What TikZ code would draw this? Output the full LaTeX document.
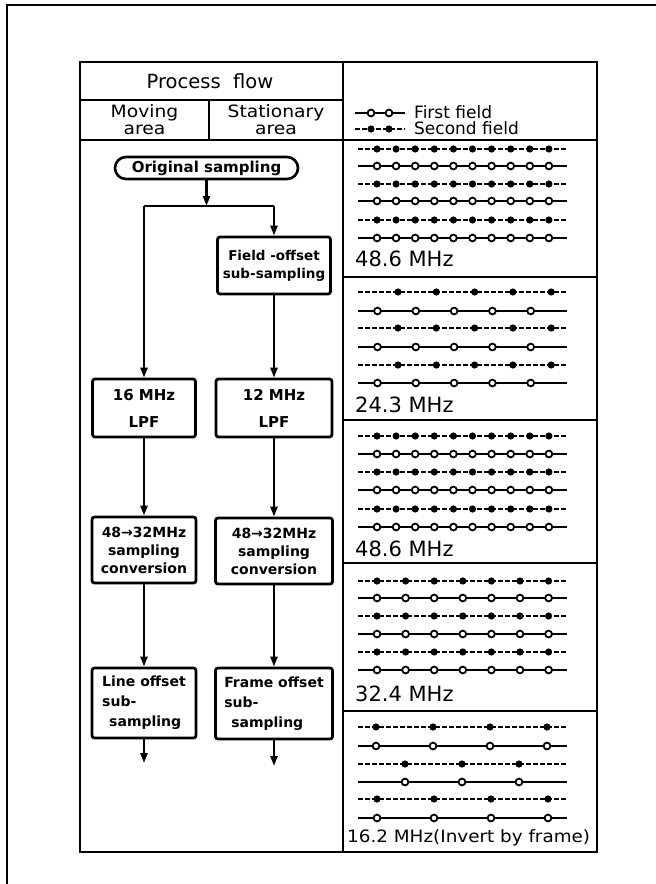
\documentclass[tikz,border=0pt]{standalone}
\usepackage{fontspec}
\setmainfont{DejaVu Sans}
\usetikzlibrary{arrows.meta}
\newcommand\openrow[4]{%
  \draw[rowline] (358,#1) -- (567,#1);
  \foreach \k in {1,...,#4} \draw[opendot] ({#2+(\k-1)*#3},#1) circle (3.4pt);
}
\newcommand\fillrow[4]{%
  \draw[rowline,dash pattern=on 4.5pt off 2.5pt] (358,#1) -- (567,#1);
  \foreach \k in {1,...,#4} \fill ({#2+(\k-1)*#3},#1) circle (3.6pt);
}
\begin{document}
\begin{tikzpicture}[x=1pt,y=-1pt,
  frame/.style={line width=2.8pt},
  box/.style={draw,line width=2.8pt,rounded corners=2.5pt,inner sep=0pt,align=center,
    font=\fontsize{14}{18}\selectfont\bfseries},
  conn/.style={line width=2.4pt,-{Triangle[length=10pt,width=7pt]}},
  plain/.style={line width=2.4pt},
  hdr/.style={inner sep=0pt,align=center,font=\fontsize{19.5}{17}\selectfont},
  sub/.style={inner sep=0pt,align=center,font=\fontsize{17}{17}\selectfont},
  legend/.style={inner sep=0pt,anchor=west,font=\fontsize{17}{15}\selectfont},
  lbl/.style={inner sep=0pt,anchor=west,font=\fontsize{21}{21}\selectfont},
  rowline/.style={line width=2.1pt},
  opendot/.style={draw,fill=white,line width=1.8pt}]
\useasboundingbox (0,0) rectangle (656,884);
\fill[white] (0,0) rectangle (656,884);
% outer frame
\draw[line width=2.8pt] (656,5) -- (7,5) -- (7,884);
% table
\draw[frame] (80,62) rectangle (597,852);
\draw[frame] (343,62) -- (343,852);
\draw[frame] (80,100) -- (343,100);
\draw[frame] (80,140) -- (597,140);
\draw[frame] (209,100) -- (209,140);
\foreach \yy in {277,420,563,711} \draw[frame] (343,\yy) -- (597,\yy);
% headers
\node[hdr] (pf) at (210,81) {Process\ \ flow};
\node[sub] (mv) at (144.5,120) {\scalebox{1.1}[1]{Moving}\\\scalebox{1.1}[1]{area}};
\node[sub] (st) at (276,120) {\scalebox{1.1}[1]{Stationary}\\\scalebox{1.1}[1]{area}};
% flow chart
\node[draw,rounded corners=11pt,line width=2.6pt,minimum width=183pt,minimum height=22pt,
  inner sep=0pt,font=\fontsize{15}{15}\selectfont\bfseries] (orig) at (206.5,168) {Original sampling};
\node[box,minimum width=113pt,minimum height=57pt,font=\fontsize{13.5}{18}\selectfont\bfseries] (fos) at (274,265.5) {Field -offset\\sub-sampling};
\node[box,minimum width=103pt,minimum height=58pt,font=\fontsize{15}{27}\selectfont\bfseries] (lpf1) at (144,408) {16 MHz\\LPF};
\node[box,minimum width=116pt,minimum height=58pt,font=\fontsize{15}{27}\selectfont\bfseries] (lpf2) at (274,408) {12 MHz\\LPF};
\node[box,minimum width=104pt,minimum height=66pt] (conv1) at (144,550) {48→32MHz\\sampling\\conversion};
\node[box,minimum width=117pt,minimum height=66pt] (conv2) at (274,551) {48→32MHz\\sampling\\conversion};
\node[box,minimum width=104pt,minimum height=70pt,align=left,font=\fontsize{14}{20}\selectfont\bfseries] (loff) at (144,703) {Line offset\\sub-\\\hspace*{0.5em}sampling};
\node[box,minimum width=117pt,minimum height=71pt,align=left,font=\fontsize{14}{20}\selectfont\bfseries] (foff) at (274,703.5) {Frame offset\\sub-\\\hspace*{0.5em}sampling};
\coordinate (split) at (206.5,206);
\coordinate (sl) at (144,206);
\coordinate (sr) at (274,206);
\coordinate (lout) at (144,763);
\coordinate (rout) at (274,766);
\draw[conn] (orig) -- (split);
\draw[plain] (sl) -- (sr);
\draw[conn] (sl) -- (lpf1);
\draw[conn] (sr) -- (fos);
\draw[conn] (fos) -- (lpf2);
\draw[conn] (lpf1) -- (conv1);
\draw[conn] (lpf2) -- (conv2);
\draw[conn] (conv1) -- (loff);
\draw[conn] (conv2) -- (foff);
\draw[conn] (loff) -- (lout);
\draw[conn] (foff) -- (rout);
% legend
\draw[rowline] (355,113) -- (405,113);
\draw[opendot] (371,113) circle (3.4pt);
\draw[opendot] (389,113) circle (3.4pt);
\draw[rowline,dash pattern=on 4.5pt off 2.5pt] (355,129) -- (405,129);
\fill (371,129) circle (3.6pt);
\fill (389,129) circle (3.6pt);
\node[legend] (lg1) at (414,112) {First field};
\node[legend] (lg2) at (414,128) {Second field};
% cell 1: 48.6 MHz
\fillrow{149}{377}{19.1}{10}
\openrow{166}{377}{19.1}{10}
\fillrow{184}{377}{19.1}{10}
\openrow{201}{377}{19.1}{10}
\fillrow{220}{377}{19.1}{10}
\openrow{238}{377}{19.1}{10}
\node[lbl] (c1) at (355,259) {48.6 MHz};
% cell 2: 24.3 MHz
\fillrow{292}{398}{38.3}{5}
\openrow{311}{377.5}{38.3}{5}
\fillrow{328}{398}{38.3}{5}
\openrow{347}{377.5}{38.3}{5}
\fillrow{365}{398}{38.3}{5}
\openrow{383}{377.5}{38.3}{5}
\node[lbl] (c2) at (355,405) {24.3 MHz};
% cell 3: 48.6 MHz
\fillrow{436}{377}{19.1}{10}
\openrow{454}{377}{19.1}{10}
\fillrow{472}{377}{19.1}{10}
\openrow{490}{377}{19.1}{10}
\fillrow{509}{377}{19.1}{10}
\openrow{527}{377}{19.1}{10}
\node[lbl] (c3) at (355,549) {48.6 MHz};
% cell 4: 32.4 MHz
\fillrow{581}{377}{28.6}{7}
\openrow{598}{377}{28.6}{7}
\fillrow{616}{377}{28.6}{7}
\openrow{634}{377}{28.6}{7}
\fillrow{652}{377}{28.6}{7}
\openrow{670}{377}{28.6}{7}
\node[lbl] (c4) at (355,694) {32.4 MHz};
% cell 5: 16.2 MHz
\fillrow{727}{376}{57}{4}
\openrow{746}{376}{57}{4}
\fillrow{764}{405}{57}{3}
\openrow{782}{405}{57}{3}
\fillrow{799}{377}{57}{4}
\openrow{818}{377}{57}{4}
\node[lbl,font=\fontsize{17}{17}\selectfont] (c5) at (347,838) {\scalebox{1.08}[1]{16.2 MHz(Invert by frame)}};
\end{tikzpicture}
\end{document}
